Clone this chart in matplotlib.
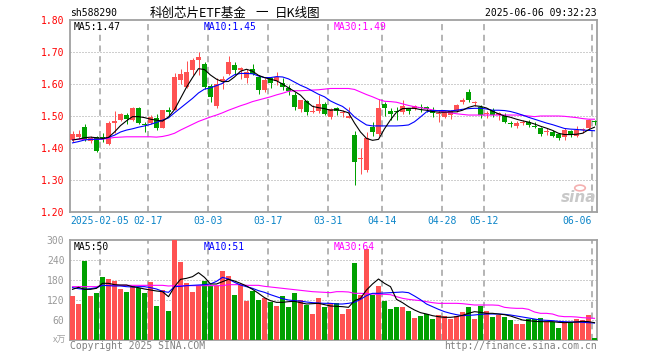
import matplotlib
matplotlib.use("Agg")
import matplotlib.pyplot as plt
import numpy as np

# ---- data (one entry per trading day) ----
opens = [1.425, 1.435, 1.466, 1.421, 1.434, 1.432, 1.413, 1.477, 1.487, 1.503,
         1.489, 1.525, 1.476, 1.478, 1.495, 1.464, 1.518, 1.520, 1.614, 1.592,
         1.644, 1.676, 1.663, 1.595, 1.531, 1.609, 1.631, 1.659, 1.645, 1.619,
         1.647, 1.623, 1.581, 1.618, 1.609, 1.602, 1.586, 1.566, 1.522, 1.547,
         1.511, 1.516, 1.536, 1.497, 1.526, 1.508, 1.495, 1.441, 1.365, 1.331,
         1.467, 1.443, 1.537, 1.517, 1.516, 1.514, 1.524, 1.522, 1.527, 1.527,
         1.519, 1.506, 1.498, 1.503, 1.516, 1.543, 1.576, 1.541, 1.529, 1.505,
         1.519, 1.503, 1.501, 1.479, 1.470, 1.479, 1.482, 1.470, 1.464, 1.451,
         1.451, 1.443, 1.435, 1.453, 1.439, 1.456, 1.461, 1.485]
closes = [1.444, 1.443, 1.425, 1.432, 1.390, 1.430, 1.478, 1.484, 1.506, 1.490,
          1.524, 1.478, 1.472, 1.498, 1.464, 1.518, 1.513, 1.622, 1.631, 1.639,
          1.676, 1.683, 1.592, 1.560, 1.599, 1.617, 1.668, 1.644, 1.649, 1.636,
          1.631, 1.581, 1.612, 1.602, 1.623, 1.592, 1.578, 1.529, 1.549, 1.514,
          1.516, 1.536, 1.506, 1.522, 1.516, 1.511, 1.501, 1.357, 1.369, 1.430,
          1.449, 1.526, 1.526, 1.507, 1.512, 1.531, 1.517, 1.531, 1.525, 1.522,
          1.510, 1.509, 1.511, 1.516, 1.534, 1.550, 1.550, 1.544, 1.503, 1.508,
          1.503, 1.508, 1.480, 1.476, 1.479, 1.482, 1.472, 1.467, 1.443, 1.454,
          1.439, 1.432, 1.456, 1.441, 1.456, 1.459, 1.487, 1.482]
highs = [1.453, 1.456, 1.474, 1.437, 1.436, 1.447, 1.484, 1.516, 1.509, 1.510,
         1.528, 1.527, 1.482, 1.503, 1.505, 1.520, 1.528, 1.634, 1.647, 1.673,
         1.680, 1.700, 1.668, 1.600, 1.618, 1.626, 1.688, 1.670, 1.654, 1.647,
         1.664, 1.628, 1.618, 1.620, 1.639, 1.618, 1.597, 1.576, 1.549, 1.550,
         1.534, 1.566, 1.545, 1.526, 1.529, 1.519, 1.529, 1.453, 1.399, 1.450,
         1.480, 1.553, 1.543, 1.524, 1.529, 1.550, 1.526, 1.534, 1.538, 1.532,
         1.529, 1.519, 1.516, 1.519, 1.539, 1.556, 1.583, 1.547, 1.534, 1.515,
         1.524, 1.513, 1.508, 1.484, 1.484, 1.487, 1.487, 1.480, 1.467, 1.461,
         1.456, 1.446, 1.461, 1.456, 1.469, 1.464, 1.490, 1.488]
lows = [1.418, 1.430, 1.422, 1.415, 1.386, 1.420, 1.409, 1.446, 1.484, 1.476,
        1.484, 1.474, 1.451, 1.474, 1.455, 1.462, 1.500, 1.518, 1.600, 1.589,
        1.627, 1.628, 1.585, 1.545, 1.526, 1.584, 1.628, 1.630, 1.616, 1.604,
        1.628, 1.568, 1.576, 1.589, 1.597, 1.581, 1.566, 1.519, 1.514, 1.503,
        1.508, 1.508, 1.503, 1.490, 1.503, 1.498, 1.493, 1.284, 1.320, 1.324,
        1.439, 1.439, 1.500, 1.487, 1.487, 1.506, 1.506, 1.519, 1.514, 1.514,
        1.498, 1.482, 1.493, 1.490, 1.514, 1.537, 1.545, 1.532, 1.495, 1.493,
        1.498, 1.487, 1.477, 1.467, 1.462, 1.472, 1.467, 1.461, 1.439, 1.440,
        1.435, 1.425, 1.425, 1.433, 1.435, 1.446, 1.459, 1.473]

ma5 = [1.425, 1.428, 1.432, 1.434, 1.432, 1.430, 1.433, 1.450, 1.470, 1.485,
       1.498, 1.498, 1.495, 1.490, 1.487, 1.484, 1.497, 1.520, 1.555, 1.590,
       1.620, 1.648, 1.645, 1.628, 1.615, 1.607, 1.608, 1.622, 1.640, 1.646,
       1.640, 1.627, 1.620, 1.615, 1.610, 1.600, 1.588, 1.577, 1.565, 1.545,
       1.530, 1.526, 1.523, 1.518, 1.520, 1.516, 1.510, 1.478, 1.450, 1.430,
       1.424, 1.427, 1.460, 1.488, 1.512, 1.523, 1.524, 1.524, 1.520, 1.518,
       1.514, 1.512, 1.512, 1.513, 1.513, 1.518, 1.527, 1.532, 1.530, 1.525,
       1.515, 1.507, 1.500, 1.496, 1.490, 1.485, 1.481, 1.475, 1.468, 1.462,
       1.455, 1.446, 1.442, 1.442, 1.443, 1.446, 1.457, 1.465]
ma10 = [1.416, 1.420, 1.425, 1.427, 1.427, 1.428, 1.433, 1.440, 1.450, 1.456,
        1.460, 1.465, 1.469, 1.474, 1.480, 1.487, 1.494, 1.510, 1.525, 1.540,
        1.555, 1.572, 1.584, 1.588, 1.595, 1.602, 1.617, 1.629, 1.633, 1.633,
        1.632, 1.625, 1.620, 1.620, 1.623, 1.622, 1.616, 1.606, 1.596, 1.588,
        1.578, 1.568, 1.560, 1.547, 1.538, 1.530, 1.516, 1.497, 1.484, 1.472,
        1.469, 1.469, 1.469, 1.469, 1.469, 1.470, 1.472, 1.482, 1.497, 1.513,
        1.517, 1.517, 1.517, 1.516, 1.518, 1.521, 1.523, 1.524, 1.524, 1.522,
        1.518, 1.518, 1.517, 1.514, 1.509, 1.503, 1.496, 1.490, 1.484, 1.478,
        1.473, 1.467, 1.461, 1.459, 1.458, 1.456, 1.455, 1.454]
ma30 = [1.426, 1.427, 1.427, 1.427, 1.427, 1.428, 1.430, 1.433, 1.434, 1.435,
        1.435, 1.435, 1.435, 1.435, 1.434, 1.436, 1.440, 1.446, 1.456, 1.465,
        1.474, 1.483, 1.490, 1.497, 1.503, 1.510, 1.518, 1.525, 1.532, 1.538,
        1.545, 1.550, 1.555, 1.560, 1.566, 1.571, 1.577, 1.579, 1.579, 1.580,
        1.581, 1.582, 1.584, 1.586, 1.586, 1.586, 1.586, 1.583, 1.575, 1.567,
        1.560, 1.552, 1.546, 1.545, 1.543, 1.538, 1.533, 1.529, 1.526, 1.523,
        1.519, 1.516, 1.513, 1.510, 1.507, 1.505, 1.503, 1.503, 1.503, 1.503,
        1.503, 1.503, 1.503, 1.503, 1.503, 1.502, 1.500, 1.498, 1.500, 1.500,
        1.500, 1.500, 1.499, 1.497, 1.495, 1.492, 1.490, 1.490]

volumes = [133, 109, 236, 133, 142, 190, 184, 178, 154, 145,
           163, 157, 142, 175, 103, 150, 88, 300, 234, 172,
           145, 163, 178, 163, 163, 208, 193, 136, 166, 118,
           148, 121, 125, 113, 103, 133, 98, 142, 120, 106,
           79, 127, 100, 111, 110, 78, 93, 232, 135, 273,
           135, 162, 117, 93, 99, 99, 87, 66, 72, 78,
           63, 75, 72, 63, 72, 84, 99, 63, 102, 87,
           69, 75, 69, 60, 48, 48, 63, 63, 66, 54,
           54, 36, 54, 54, 63, 60, 75, 6]
vol_ma5 = [152, 158, 152, 152, 155, 170, 170, 166, 165, 165,
           160, 157, 153, 150, 147, 145, 130, 160, 182, 185,
           190, 202, 188, 168, 168, 175, 182, 177, 170, 162,
           152, 140, 127, 118, 113, 113, 115, 116, 112, 108,
           109, 110, 106, 102, 101, 100, 98, 118, 125, 150,
           168, 183, 170, 160, 122, 112, 100, 90, 82, 78,
           73, 70, 68, 68, 70, 74, 80, 85, 83, 80,
           80, 78, 76, 72, 66, 60, 58, 56, 55, 55,
           55, 53, 52, 53, 54, 56, 55, 52]
vol_ma10 = [157, 154, 152, 154, 157, 164, 163, 162, 162, 160,
            159, 160, 160, 157, 153, 146, 143, 160, 161, 163,
            164, 165, 166, 168, 176, 188, 183, 173, 165, 160,
            155, 148, 143, 136, 130, 124, 120, 118, 117, 114,
            112, 111, 110, 110, 108, 108, 110, 113, 122, 133,
            140, 140, 141, 142, 143, 144, 142, 132, 121, 108,
            100, 92, 85, 80, 76, 73, 74, 75, 77, 78,
            78, 78, 77, 75, 72, 69, 66, 63, 60, 59,
            58, 56, 55, 54, 54, 53, 52, 51]
vol_ma30 = [160, 160, 160, 160, 160, 164, 164, 164, 164, 164,
            164, 164, 164, 164, 164, 164, 162, 163, 163, 163,
            163, 163, 163, 163, 163, 163, 166, 166, 166, 164,
            164, 164, 161, 159, 157, 155, 153, 151, 149, 147,
            145, 144, 143, 142, 145, 145, 144, 140, 140, 139,
            138, 137, 137, 136, 130, 125, 122, 120, 118, 115,
            112, 110, 110, 110, 110, 109, 107, 105, 105, 105,
            105, 104, 98, 96, 95, 95, 92, 84, 80, 80,
            78, 72, 70, 70, 69, 67, 66, 65]

date_labels = ["2025-02-05", "02-17", "03-03", "03-17", "03-31",
               "04-14", "04-28", "05-12", "06-06"]
date_index = [5, 13, 23, 33, 43, 52, 62, 69, 87]

price_ticks = [1.20, 1.30, 1.40, 1.50, 1.60, 1.70, 1.80]
vol_ticks = [60, 120, 180, 240, 300]

RED = "#FF5252"
GREEN = "#00A000"
GRID = "#A0A0A0"
MONO = "DejaVu Sans Mono"
CJK = ["Noto Sans CJK SC", "DejaVu Sans"]

W, H = 660, 360
fig = plt.figure(figsize=(W / 100, H / 100), dpi=100)
fig.patch.set_facecolor("white")


def fx(px):
    return px / W


def fy(py):
    return 1 - py / H


ax = fig.add_axes([fx(70), fy(212), fx(597) - fx(70), fy(20) - fy(212)])
axv = fig.add_axes([fx(70), fy(340), fx(597) - fx(70), fy(240) - fy(340)])

n = len(closes)
x = np.arange(n)
x0 = -2.5 / 6
xlim = (x0, x0 + (597 - 70) / 6)
px_lw = 0.72
ma_lw = 0.8

# ---- price panel ----
for i in range(n):
    up = closes[i] >= opens[i]
    col = RED if up else GREEN
    ax.vlines(x[i], lows[i], highs[i], color=col, lw=px_lw, zorder=3)
    bottom = min(opens[i], closes[i])
    height = max(abs(closes[i] - opens[i]), 0.003)
    ax.bar(x[i], height, bottom=bottom, width=0.8, color=col, lw=0, zorder=3)

ax.plot(x, ma30, color="#FF00FF", lw=ma_lw, zorder=4)
ax.plot(x, ma10, color="#0000FF", lw=ma_lw, zorder=4)
ax.plot(x, ma5, color="black", lw=ma_lw, zorder=4)

ax.set_xlim(*xlim)
ax.set_ylim(1.20, 1.80)
ax.set_yticks(price_ticks)
ax.set_yticklabels([f"{t:.2f}" for t in price_ticks], fontfamily=MONO,
                   fontsize=7, color="red")
ax.set_xticks([])
for t in price_ticks[1:-1]:
    ax.axhline(t, color=GRID, lw=px_lw, ls=(0, (1, 2)), zorder=1)

# ---- volume panel ----
vol_colors = [RED if c >= o else GREEN for o, c in zip(opens, closes)]
axv.bar(x, volumes, width=0.8, color=vol_colors, lw=0, zorder=3)
axv.plot(x, vol_ma30, color="#FF00FF", lw=ma_lw, zorder=4)
axv.plot(x, vol_ma10, color="#0000FF", lw=ma_lw, zorder=4)
axv.plot(x, vol_ma5, color="black", lw=ma_lw, zorder=4)
axv.set_xlim(*xlim)
axv.set_ylim(0, 300)
axv.set_yticks(vol_ticks)
axv.set_yticklabels([str(t) for t in vol_ticks], fontfamily=MONO,
                    fontsize=7, color="#999999")
axv.set_xticks([])
for t in vol_ticks[:-1]:
    axv.axhline(t, color=GRID, lw=px_lw, ls=(0, (1, 2)), zorder=1)

for a in (ax, axv):
    a.tick_params(axis="y", length=0, pad=4)
    for s in a.spines.values():
        s.set_color("#A0A0A0")
        s.set_linewidth(1.3)
    for d in date_index:
        a.axvline(d + x0, color=GRID, lw=1.1, ls=(0, (4, 3)), zorder=2)

# ---- date labels ----
for lab, d in zip(date_labels, date_index):
    px = 70 + 6 * d
    if lab.startswith("2025"):
        ha, px = "left", 70
    elif d == date_index[-1]:
        ha = "right"
    else:
        ha = "center"
    fig.text(fx(px), fy(221), lab, ha=ha, va="center", fontsize=7,
             fontfamily=MONO, color="#0A84C8")

# ---- header / legends / footer ----
fig.text(fx(70), fy(13), "sh588290", ha="left", va="center", fontsize=7,
         fontfamily=MONO, color="black")
# title is spaced out like the original, so place its parts separately
fig.text(fx(150), fy(13), "科创芯片ETF基金", ha="left", va="center",
         fontsize=9, family=CJK, color="black")
fig.text(fx(255), fy(13), "一", ha="left", va="center",
         fontsize=9, family=CJK, color="black")
fig.text(fx(275), fy(13), "日K线图", ha="left", va="center",
         fontsize=9, family=CJK, color="black")
fig.text(fx(597), fy(13), "2025-06-06 09:32:23", ha="right", va="center",
         fontsize=7, fontfamily=MONO, color="black")

fig.text(fx(74), fy(27), "MA5:1.47", ha="left", va="center",
         fontsize=7, fontfamily=MONO, color="black")
fig.text(fx(204), fy(27), "MA10:1.45", ha="left", va="center",
         fontsize=7, fontfamily=MONO, color="#0000FF")
fig.text(fx(334), fy(27), "MA30:1.49", ha="left", va="center",
         fontsize=7, fontfamily=MONO, color="#FF00FF")

fig.text(fx(74), fy(247), "MA5:50", ha="left", va="center",
         fontsize=7, fontfamily=MONO, color="black")
fig.text(fx(204), fy(247), "MA10:51", ha="left", va="center",
         fontsize=7, fontfamily=MONO, color="#0000FF")
fig.text(fx(334), fy(247), "MA30:64", ha="left", va="center",
         fontsize=7, fontfamily=MONO, color="#FF00FF")

fig.text(fx(66), fy(340), "x万", ha="right", va="center", fontsize=6.5,
         family=CJK, color="#A0A0A0")
fig.text(fx(70), fy(346), "Copyright 2025 SINA.COM", ha="left", va="center",
         fontsize=7, fontfamily=MONO, color="#808080")
fig.text(fx(597), fy(346), "http://finance.sina.com.cn", ha="right",
         va="center", fontsize=7, fontfamily=MONO, color="#808080")

# sina watermark
fig.text(fx(596), fy(197), "sina", ha="right", va="center", fontsize=11,
         fontweight="bold", fontstyle="italic", color="#C8C8C8")
fig.patches.append(plt.Circle((fx(580), fy(188)), 0.008,
                              transform=fig.transFigure, facecolor="none",
                              edgecolor="#F4B0B0", lw=1.2))

fig.savefig("out.png", dpi=100, facecolor="white")
